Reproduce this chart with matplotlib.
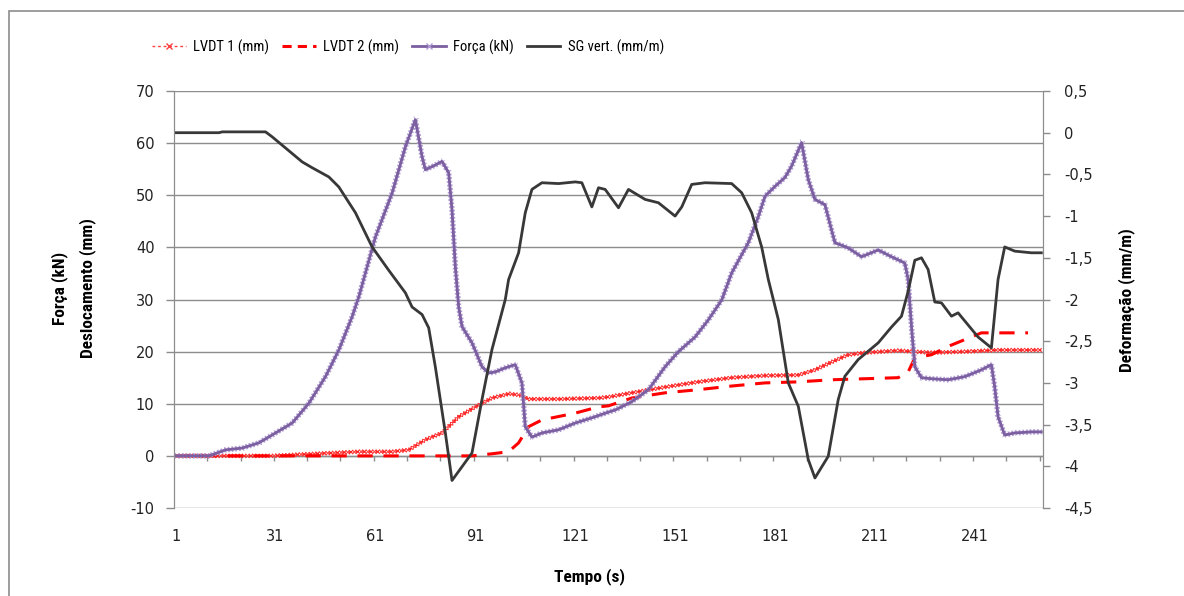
import matplotlib.pyplot as plt
import matplotlib.patheffects as pe
from matplotlib.lines import Line2D
from matplotlib.patches import Rectangle
import numpy as np

plt.rcParams['font.family'] = ['DejaVu Sans']

# dados
t_lvdt1 = [1, 30, 46, 56, 66, 71, 76, 81, 86, 91, 96, 101, 104, 107, 116, 128, 131, 138, 148, 158,
           168, 178, 188, 193, 198, 203, 208, 218, 228, 238, 248, 261]
lvdt1 = [0, 0, 0.5, 0.8, 0.8, 1.15, 3.1, 4.4, 7.5, 9.4, 11.1, 11.9, 11.7, 10.9, 10.9, 11.1, 11.3, 12.1, 13.2, 14.2,
         15.0, 15.4, 15.5, 16.5, 18.0, 19.4, 19.8, 20.2, 19.8, 20.0, 20.3, 20.3]

t_lvdt2 = [1, 90, 96, 101, 104, 107, 111, 121, 128, 131, 138, 148, 158, 168, 178, 188, 198, 208, 218,
           221, 223, 228, 233, 238, 243, 257]
lvdt2 = [0, 0, 0.4, 0.8, 2.5, 5.6, 6.9, 8.2, 9.4, 9.6, 11.1, 12.1, 12.7, 13.4, 14.0, 14.2, 14.6, 14.8, 15.0,
         16.1, 18.8, 19.4, 21.0, 22.3, 23.6, 23.6]

t_forca = [1, 11, 16, 21, 26, 31, 36, 41, 46, 50, 54, 56, 61, 66, 70, 73, 75, 76, 79, 81, 83, 84, 85, 86, 87,
           90, 93, 95, 97, 100, 103, 105, 106, 108, 111, 116, 121, 126, 131, 133, 138, 143, 148, 152, 157, 161,
           165, 168, 173, 176, 178, 181, 184, 186, 189, 191, 193, 196, 199, 203, 207, 212, 216, 220, 221, 222,
           223, 225, 228, 233, 238, 243, 246, 247, 248, 250, 253, 258, 261]
forca = [0, 0, 1.15, 1.5, 2.5, 4.4, 6.3, 10.1, 15.2, 20.3, 26.7, 30.5, 42, 50.4, 59.3, 64.5, 57.4, 54.9, 55.8,
         56.5, 54.3, 47.2, 36.3, 28.6, 24.8, 21.7, 17.1, 15.9, 16.1, 16.9, 17.5, 14.0, 5.6, 3.6, 4.4, 5.0, 6.3,
         7.3, 8.4, 8.8, 10.4, 12.7, 17.1, 20.0, 22.8, 26.1, 29.9, 35.1, 40.9, 45.9, 49.8, 51.7, 53.4, 55.6,
         60.1, 53, 49.2, 48.2, 40.9, 39.9, 38.2, 39.5, 38.2, 37.0, 33.8, 24.8, 17.1, 15, 14.8, 14.6, 15.2,
         16.5, 17.5, 13.2, 7.5, 4.0, 4.4, 4.6, 4.6]

t_sg = [1, 14, 15, 28, 30, 39, 42, 47, 50, 55, 60, 65, 70, 72, 75, 77, 79, 82, 84, 90, 93, 96, 100, 101,
        104, 106, 108, 111, 116, 121, 123, 126, 128, 130, 134, 137, 142, 146, 151, 153, 156, 160, 168, 171,
        174, 177, 179, 182, 185, 188, 191, 193, 197, 200, 202, 206, 212, 216, 219, 221, 223, 225, 227, 229,
        231, 234, 236, 242, 246, 248, 250, 253, 258, 261]
sg = [0, 0, 0.01, 0.01, -0.05, -0.35, -0.42, -0.53, -0.65, -0.96, -1.37, -1.65, -1.92, -2.09, -2.18, -2.34,
      -2.81, -3.6, -4.17, -3.84, -3.2, -2.6, -2.0, -1.76, -1.44, -0.96, -0.68, -0.6, -0.61, -0.59, -0.6,
      -0.89, -0.66, -0.68, -0.9, -0.68, -0.8, -0.84, -1.0, -0.89, -0.62, -0.6, -0.61, -0.72, -0.96, -1.37,
      -1.76, -2.24, -3.0, -3.28, -3.92, -4.14, -3.88, -3.2, -2.92, -2.72, -2.52, -2.33, -2.2, -1.9, -1.53,
      -1.5, -1.64, -2.03, -2.04, -2.2, -2.16, -2.45, -2.58, -1.76, -1.37, -1.42, -1.44, -1.44]

x_ticks = [1, 31, 61, 91, 121, 151, 181, 211, 241]
y_left = [-10, 0, 10, 20, 30, 40, 50, 60, 70]
y_right = [-4.5, -4, -3.5, -3, -2.5, -2, -1.5, -1, -0.5, 0, 0.5]
y_right_lbl = ['-4,5', '-4', '-3,5', '-3', '-2,5', '-2', '-1,5', '-1', '-0,5', '0', '0,5']


def cruzes(cor, passo=2.4, comp=0.85, lw=0.6):
    # marcadores "x" densos ao longo da linha (linha desenhada por cima)
    ef = []
    for a in (45, -135, 135, -45):
        ef.append(pe.TickedStroke(spacing=passo, angle=a, length=comp, linewidth=lw,
                                  foreground=cor, dashes={'dash_offset': 0, 'dash_list': None}))
    ef.append(pe.Normal())
    return ef


fig = plt.figure(figsize=(11.84, 5.96), dpi=100)
fig.patches.append(Rectangle((9 / 1184, -0.1), 1.2, 1 - 11 / 596 + 0.1, transform=fig.transFigure,
                             fill=False, edgecolor='#8c8c8c', linewidth=1.2))

ax = fig.add_axes([174 / 1184, 1 - 508 / 596, (1043 - 174) / 1184, 417 / 596])
ax2 = ax.twinx()

ax.plot(t_lvdt1, lvdt1, color='#ff2020', lw=1.2, ls=(0, (2, 2)), path_effects=cruzes('#ff3030', lw=0.7))
ax.plot(t_lvdt2, lvdt2, color='#ff0000', lw=2.2, ls=(0, (5, 3.5)))
ax.plot(t_forca, forca, color='#7b5fa0', lw=2.0, path_effects=cruzes('#ad98d2', passo=2.6, comp=0.9, lw=0.6))
ax2.plot(t_sg, sg, color='#383838', lw=2.0)

ax.set_xlim(0.5, 261.5)
ax.set_ylim(-10, 70)
ax2.set_ylim(-4.5, 0.5)

ax.set_yticks(y_left)
ax.set_yticklabels([str(v) for v in y_left])
ax2.set_yticks(y_right)
ax2.set_yticklabels(y_right_lbl)
ax.set_xticks(x_ticks)
ax.set_xticklabels([str(v) for v in x_ticks])

ax.grid(axis='y', color='#8c8c8c', lw=1)
ax.set_axisbelow(True)
for a in (ax, ax2):
    for s in a.spines.values():
        s.set_color('#8c8c8c')
    a.spines['top'].set_visible(False)
    a.spines['bottom'].set_visible(False)

ax.tick_params(axis='y', length=6, width=1, color='#8c8c8c', pad=8, labelsize=10.5, labelcolor='#222222')
ax2.tick_params(axis='y', length=5, width=1, color='#8c8c8c', pad=10, labelsize=10.5, labelcolor='#222222')
ax.tick_params(axis='x', length=0, pad=15, labelsize=10.5, labelcolor='#222222')

# marcas do eixo horizontal sobre a linha do zero
marcas = np.arange(10.5, 261, 10)
ax.vlines(marcas, -0.9, 0, color='#8c8c8c', lw=1, zorder=1)
ax.axhline(0, color='#8c8c8c', lw=1, zorder=1)

estreita = ['Liberation Sans Narrow', 'DejaVu Sans Condensed', 'Roboto Condensed', 'Liberation Sans',
            'DejaVu Sans']
fig.text(60 / 1184, 1 - 288 / 596, 'Força (kN)', rotation=90, ha='center', va='center',
         fontsize=12.5, fontweight='bold', family=estreita)
fig.text(88 / 1184, 1 - 288 / 596, 'Deslocamento (mm)', rotation=90, ha='center', va='center',
         fontsize=12.5, fontweight='bold', family=estreita)
fig.text(1127 / 1184, 1 - 300 / 596, 'Deformação (mm/m)', rotation=90, ha='center', va='center',
         fontsize=12.5, fontweight='bold', family=estreita)
fig.text(590 / 1184, 1 - 577 / 596, 'Tempo (s)', ha='center', va='center',
         fontsize=12.5, fontweight='bold', family=estreita)

h = [Line2D([], [], color='#ff4040', lw=1, ls=(0, (2, 2)), marker='x', ms=4),
     Line2D([], [], color='#ff0000', lw=2.2, ls=(0, (3, 2))),
     Line2D([], [], color='#7b5fa0', lw=2, marker='x', ms=4, mec='#ad98d2'),
     Line2D([], [], color='#383838', lw=2)]
fig.legend(h, ['LVDT 1 (mm)', 'LVDT 2 (mm)', 'Força (kN)', 'SG vert. (mm/m)'], ncol=4,
           loc='center', bbox_to_anchor=(408 / 1184, 1 - 47 / 596), frameon=False,
           handlelength=2.3, handletextpad=0.5, columnspacing=0.9,
           prop={'family': estreita, 'size': 10.5})

fig.savefig('out.png', dpi=100)
